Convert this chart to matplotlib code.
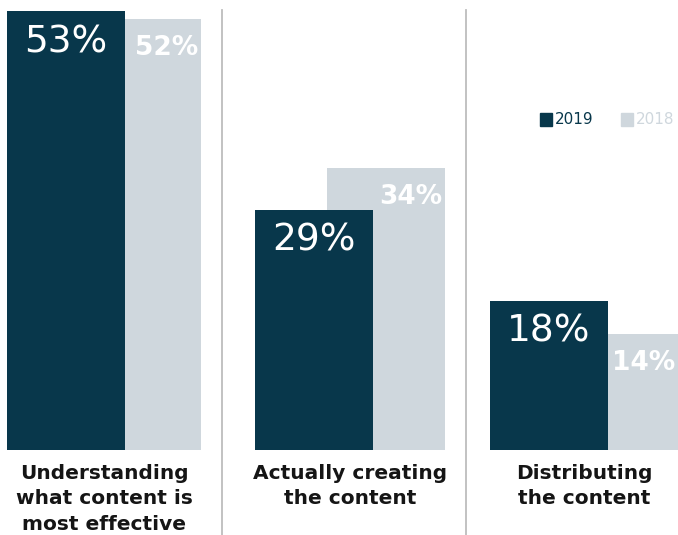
import matplotlib.pyplot as plt
from matplotlib.patches import Rectangle

# survey results, % of respondents
categories = ["Understanding\nwhat content is\nmost effective",
              "Actually creating\nthe content",
              "Distributing\nthe content"]
vals_2019 = [53, 29, 18]
vals_2018 = [52, 34, 14]
years = ["2019", "2018"]

DARK = "#08374b"
LIGHT = "#cfd7dd"
SEP = "#bdbdbd"

W, H = 678, 535
fig = plt.figure(figsize=(W / 100, H / 100), dpi=100)

# axes in pixel units horizontally, percent vertically
base = 450
ax = fig.add_axes([0, (H - base) / H, 1, base / H])
ax.set_xlim(0, W)
ax.set_ylim(0, base / 8.28)
ax.axis("off")

left_2019 = [7, 255, 490]
left_2018 = [83, 327, 560]
bw = 118

ax.bar(left_2018, vals_2018, width=bw, align="edge", color=LIGHT, zorder=1)
ax.bar(left_2019, vals_2019, width=bw, align="edge", color=DARK, zorder=2)

for x, v in zip(left_2019, vals_2019):
    ax.annotate(f"{v}%", (x + bw / 2, v), xytext=(0, -13), textcoords="offset pixels",
                ha="center", va="top", color="white", fontsize=27, zorder=3)
for x, v in zip(left_2018, vals_2018):
    ax.annotate(f"{v}%", (x + bw - 3, v), xytext=(0, -16), textcoords="offset pixels",
                ha="right", va="top", color="white", fontsize=19, fontweight="bold",
                zorder=3)

# category labels under each group
for xl, xr, lab in zip(left_2019, left_2018, categories):
    cx = (xl + xr + bw) / 2
    fig.text(cx / W, 1 - 464 / H, lab, ha="center", va="top", fontsize=14.5,
             fontweight="bold", color="#151515", linespacing=1.42)

# vertical separators between groups
for sx in [222, 466]:
    fig.add_artist(plt.Line2D([sx / W, sx / W], [0, 1 - 10 / H], color=SEP, lw=1.3))

# legend
for lx, c, tc, yr in [(540, DARK, DARK, years[0]), (621, LIGHT, LIGHT, years[1])]:
    fig.add_artist(Rectangle((lx / W, 1 - 126 / H), 12 / W, 13 / H,
                             transform=fig.transFigure, color=c))
    fig.text((lx + 15) / W, 1 - 119.5 / H, yr, ha="left", va="center",
             fontsize=11, color=tc)

fig.savefig("out.png", dpi=100)
